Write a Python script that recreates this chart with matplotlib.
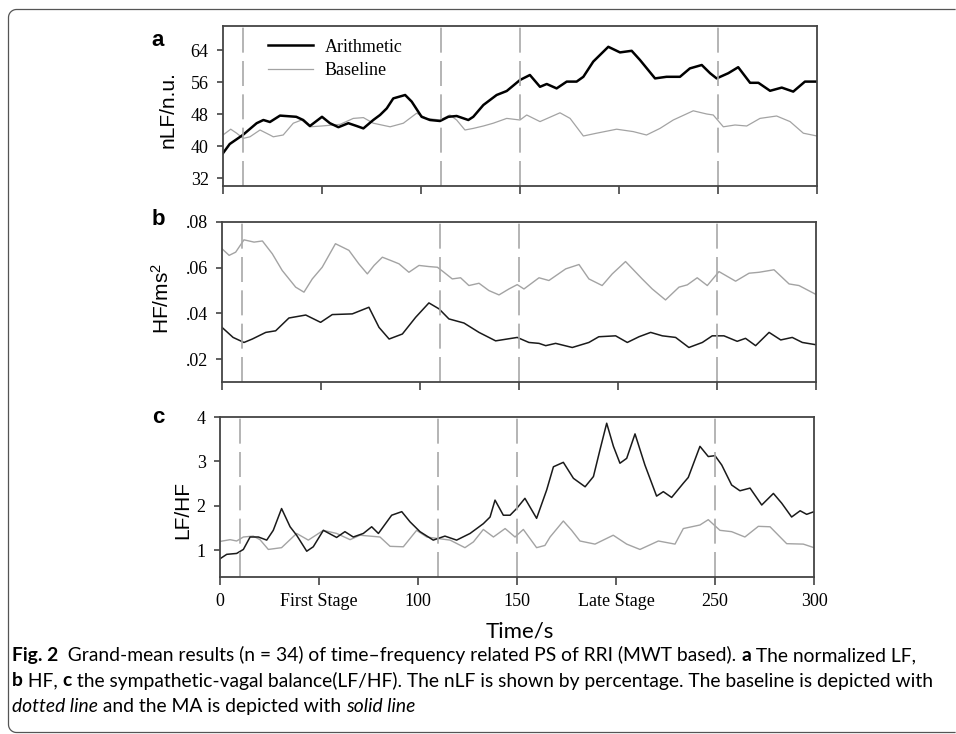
import numpy as np
import matplotlib.pyplot as plt
from matplotlib.lines import Line2D
from matplotlib.transforms import IdentityTransform

# ---- data ----
stage_marks = [10, 110, 150, 250]
xticks = [0, 50, 100, 150, 200, 250, 300]
xticklabels = ['0', 'First Stage', '100', '150', 'Late Stage', '250', '300']

# a: nLF (n.u.)
t_nlf_ma = [0, 3.4, 10, 17, 20.4, 23.7, 28.8, 37, 40.5, 43.9, 50, 54, 58.3, 63.3, 67.5, 70.9,
            75.9, 79.3, 82.7, 86, 92, 95.3, 100.3, 104.5, 109.6, 113.8, 118, 123.9, 126.4,
            131.5, 138.2, 143.3, 150, 155, 160.1, 163.5, 168.5, 173.6, 178.6, 182, 187,
            194.6, 200.5, 206.4, 210.6, 218.2, 224, 230.8, 235.8, 241.8, 246, 249.3, 255.2,
            260.2, 266.2, 270.4, 276.3, 282.2, 288, 293.9, 300]
nlf_ma = [38.2, 40.5, 42.75, 45.7, 46.5, 46, 47.6, 47.3, 46.5, 45, 47.3, 45.7, 44.7, 45.7, 45,
          44.4, 46.5, 47.75, 49.4, 51.9, 52.75, 51.1, 47.3, 46.5, 46.25, 47.3, 47.5, 46.5, 47.3,
          50.25, 52.75, 53.75, 56.5, 57.75, 54.8, 55.5, 54.4, 56.1, 56.1, 57.3, 61.1,
          64.8, 63.4, 63.8, 61.5, 56.9, 57.3, 57.3, 59.4, 60.25, 58.2, 56.9, 58.2,
          59.7, 55.8, 55.8, 53.8, 54.6, 53.6, 56.1, 56.1]
t_nlf_base = [0, 3.9, 6.9, 10.2, 13.6, 18.7, 23.7, 25.4, 30.4, 35.5, 39.7, 43.9, 49.8, 59.1,
              65.8, 70.9, 75.9, 84.4, 91.1, 97.8, 102.9, 109.6, 114.6, 118, 122.2, 126.4,
              131.5, 136.5, 143.3, 150, 153.4, 160.1, 170.2, 175.3, 182, 188.7, 198.8, 207.2,
              213.9, 220.7, 227.4, 237.5, 244.3, 247.6, 252.7, 258.6, 264.5, 271.2, 279.6,
              286.4, 293.1, 300]
nlf_base = [42.75, 44.2, 43.2, 41.9, 42.3, 44, 42.75, 42.3, 42.75, 45.7, 46.5, 44.8, 45, 45.4,
            46.9, 47.1, 45.7, 44.8, 45.7, 48.2, 46.9, 46.5, 47.75, 46.5, 44, 44.4,
            45, 45.7, 46.9, 46.5, 47.75, 46.1, 48.3, 46.9, 42.5, 43.2, 44.2, 43.6,
            42.75, 44.4, 46.5, 48.8, 48, 47.75, 44.8, 45.25, 45, 46.9, 47.5,
            46.1, 43.2, 42.5]

# b: HF (ms^2)
t_hf_ma = [0, 5.6, 11.1, 15.3, 22.1, 27.1, 33.8, 42.3, 49.8, 55.7, 65.8, 74.2, 79.3, 84.4,
           91.1, 97.8, 104.5, 109.6, 114.6, 122.2, 129.8, 138.2, 149.1, 155, 160.1, 163.5,
           168.5, 176.9, 185.3, 190.3, 198.8, 204.7, 210.6, 216.5, 222.4, 229.1, 235.8,
           242.6, 247.6, 253.5, 260.2, 264.4, 269.5, 276.3, 282.2, 288, 293.1, 300]
hf_ma = [0.0339, 0.0295, 0.0273, 0.0288, 0.0317, 0.0324, 0.038, 0.0393, 0.0361, 0.0395, 0.0398,
         0.0427, 0.0339, 0.0288, 0.031, 0.0383, 0.0446, 0.042, 0.0376, 0.0358, 0.0317, 0.028,
         0.0295, 0.0273, 0.0269, 0.0259, 0.0269, 0.0251, 0.0273, 0.0298, 0.0302, 0.0273,
         0.0298, 0.0317, 0.0302, 0.0295, 0.0251, 0.0273, 0.0302, 0.0302, 0.0278, 0.0291,
         0.0259, 0.0317, 0.0284, 0.0295, 0.0273, 0.0263]
t_hf_base = [0, 3.6, 6.9, 11.1, 16.2, 20.4, 25.4, 30.4, 37.2, 41.4, 45.6, 50.6, 57.3, 64.1,
             69.1, 73.4, 76.8, 81, 86, 89.4, 94.4, 99.5, 104.5, 108.8, 112.1, 116.3, 120.5,
             124.7, 129.8, 134.8, 139.9, 144.9, 149.1, 152.5, 160.1, 165.1, 173.6, 180.3,
             185.3, 192, 197.1, 203.8, 212.2, 217.3, 224, 230.8, 235, 240, 245.1, 251,
             259.4, 266.2, 271.2, 278.8, 286.4, 291.4, 300]
hf_base = [0.0683, 0.0654, 0.0668, 0.0722, 0.0712, 0.0717, 0.0661, 0.0588, 0.0515, 0.0493,
           0.0551, 0.0602, 0.0705, 0.0676, 0.0617, 0.0573, 0.061, 0.0646, 0.0629, 0.0617,
           0.058, 0.061, 0.0605, 0.0602, 0.058, 0.0551, 0.0556, 0.0522, 0.0532, 0.05, 0.0481,
           0.0507, 0.0526, 0.0507, 0.0556, 0.0544, 0.0595, 0.0614, 0.0551, 0.0522, 0.0573,
           0.0627, 0.0551, 0.0507, 0.0459, 0.0515, 0.0525, 0.0556, 0.0522, 0.0583, 0.0541,
           0.0576, 0.058, 0.0591, 0.0529, 0.0522, 0.0483]

# c: LF/HF
t_ratio_ma = [0, 3.4, 8.4, 11.8, 15.2, 19.4, 23.6, 26.9, 31.1, 35.4, 38.7, 43.8, 47.1, 52.2,
              58.9, 63.1, 67.3, 72.4, 76.6, 80, 86.7, 91.8, 96, 101, 107.7, 113.6, 119.5,
              126.3, 133, 136.4, 138.9, 143.1, 146.5, 149.8, 154, 159.9, 165, 168.4, 173.4,
              178.5, 184.4, 188.6, 191.9, 195.3, 198.7, 202, 205.4, 209.6, 214.6, 220.5,
              223.9, 228.1, 234, 236.5, 242.4, 246.6, 250, 253.4, 258.4, 262.6, 267.7,
              273.6, 279.5, 283.7, 288.7, 293, 296.3, 300]
ratio_ma = [0.81, 0.91, 0.93, 1.02, 1.3, 1.3, 1.23, 1.45, 1.94, 1.53, 1.34, 0.98, 1.08, 1.45,
            1.29, 1.42, 1.3, 1.38, 1.53, 1.38, 1.79, 1.87, 1.64, 1.42, 1.23, 1.32, 1.23,
            1.38, 1.6, 1.75, 2.13, 1.79, 1.79, 1.94, 2.17, 1.72, 2.36, 2.88, 2.98,
            2.62, 2.43, 2.66, 3.26, 3.86, 3.34, 2.96, 3.07, 3.62, 2.92, 2.22,
            2.32, 2.19, 2.51, 2.64, 3.34, 3.11, 3.13, 2.92, 2.47, 2.34, 2.4,
            2.02, 2.28, 2.06, 1.75, 1.89, 1.81, 1.87]
t_ratio_base = [0, 5.1, 8.4, 11.8, 16.8, 20.2, 24.4, 31.1, 38.7, 44.6, 52.2, 58.9, 65.7, 70.7,
                80.8, 85.9, 92.6, 99.3, 104.4, 111.1, 116.2, 123.7, 128, 133, 138.1, 144,
                149, 153.2, 159.9, 164.1, 166.7, 173.4, 177.6, 181.8, 189.4, 198.6, 205.4,
                212.1, 221.4, 229.8, 234, 242.4, 246.6, 252.5, 258.4, 265.1, 271.9, 277.8,
                286.2, 294.6, 300]
ratio_base = [1.2, 1.24, 1.21, 1.3, 1.32, 1.24, 1.02, 1.06, 1.38, 1.23, 1.45, 1.38, 1.24, 1.34,
              1.3, 1.09, 1.08, 1.45, 1.3, 1.26, 1.23, 1.06, 1.19, 1.47, 1.3, 1.49,
              1.3, 1.47, 1.06, 1.11, 1.3, 1.66, 1.45, 1.21, 1.14, 1.34, 1.14,
              1.02, 1.21, 1.14, 1.49, 1.57, 1.69, 1.45, 1.42, 1.3, 1.54, 1.53,
              1.15, 1.14, 1.06]

# ---- style ----
plt.rcParams['mathtext.default'] = 'regular'
serif = 'Liberation Serif'
sans = 'Liberation Sans'
cap_font = ['Lato', 'DejaVu Sans']
spine_c = '#444444'
base_c = '#a3a3a3'
dash_c = '#a8a8a8'

W, H = 956, 734
fig = plt.figure(figsize=(W / 100, H / 100), dpi=100)


def px_axes(l, t, r, b):
    return fig.add_axes([l / W, 1 - b / H, (r - l) / W, (b - t) / H])


ax_a = px_axes(223, 26, 817, 186)
ax_b = px_axes(222, 222, 816, 382)
ax_c = px_axes(220, 417, 814, 577)

ax_a.plot(t_nlf_base, nlf_base, color=base_c, lw=0.9, label='Baseline')
ax_a.plot(t_nlf_ma, nlf_ma, color='black', lw=1.8, label='Arithmetic')
ax_b.plot(t_hf_base, hf_base, color=base_c, lw=1.0)
ax_b.plot(t_hf_ma, hf_ma, color='#1a1a1a', lw=1.1)
ax_c.plot(t_ratio_base, ratio_base, color=base_c, lw=1.0)
ax_c.plot(t_ratio_ma, ratio_ma, color='#1a1a1a', lw=1.1)

for ax in (ax_a, ax_b, ax_c):
    for m in stage_marks:
        ax.axvline(m, color=dash_c, lw=1.2, dashes=(15, 5))
    ax.set_xlim(0, 300)
    ax.set_xticks(xticks)
    for s in ax.spines.values():
        s.set_color(spine_c)
        s.set_linewidth(1.3)
    ax.tick_params(axis='y', direction='out', length=4.3, width=1.2, color=spine_c,
                   pad=6, labelsize=13)
    ax.tick_params(axis='x', direction='out', length=5.5, width=1.2, color=spine_c,
                   pad=6, labelsize=13)
    for lab in ax.get_yticklabels() + ax.get_xticklabels():
        lab.set_fontfamily(serif)

ax_a.set_ylim(30, 70)
ax_a.set_yticks([32, 40, 48, 56, 64])
ax_a.set_xticklabels([])
ax_b.set_ylim(0.01, 0.08)
ax_b.set_yticks([0.02, 0.04, 0.06, 0.08])
ax_b.set_yticklabels(['.02', '.04', '.06', '.08'], fontfamily=serif)
ax_b.set_xticklabels([])
ax_c.set_ylim(0.4, 4)
ax_c.set_yticks([1, 2, 3, 4])
ax_c.set_yticklabels(['1', '2', '3', '4'], fontfamily=serif)
ax_c.set_xticklabels(xticklabels, fontfamily=serif)

ax_a.set_ylabel('nLF/n.u.', fontfamily=sans, fontsize=15)
ax_a.yaxis.set_label_coords(-0.077, 0.48)
ax_b.set_ylabel('HF/ms$^2$', fontfamily=sans, fontsize=15)
ax_b.yaxis.set_label_coords(-0.082, 0.52)
ax_c.set_ylabel('LF/HF', fontfamily=sans, fontsize=15)
ax_c.yaxis.set_label_coords(-0.047, 0.42)

h, l = ax_a.get_legend_handles_labels()
ax_a.legend(h[::-1], l[::-1], frameon=False, loc='upper left',
            bbox_to_anchor=(0.075, 0.92), borderpad=0, borderaxespad=0,
            handlelength=2.5, handletextpad=0.65, labelspacing=0.35,
            prop={'family': serif, 'size': 13})

for letter, x, y in [('a', 151, 46), ('b', 152, 225), ('c', 152, 423)]:
    fig.text(x / W, 1 - y / H, letter, fontfamily=sans, fontweight='bold',
             fontsize=16, va='baseline')

fig.text(520 / W, 1 - 637 / H, 'Time/s', fontfamily=cap_font, fontsize=16,
         ha='center', va='baseline')

# rounded frame: left side, top and bottom, open to the right (pixel coords)
r = 8
x0, yt, yb = 8.5, H - 9.5, 1.5
corner = np.linspace(0, np.pi / 2, 12)
fx = ([W - 1] + list(x0 + r - r * np.sin(corner)) +
      list(x0 + r - r * np.cos(corner)) + [W - 1])
fy = ([yb] + list(yb + r - r * np.cos(corner)) +
      list(yt - r + r * np.sin(corner)) + [yt])
fig.add_artist(Line2D(fx, fy, transform=IdentityTransform(), color='#555555', lw=0.9))

caption = [
    [('Fig. 2', 'bold', 'normal'),
     ('  Grand-mean results (n = 34) of time\u2013frequency related PS of RRI (MWT based). ',
      'normal', 'normal'),
     ('a', 'bold', 'normal'), (' The normalized LF,', 'normal', 'normal')],
    [('b', 'bold', 'normal'), (' HF, ', 'normal', 'normal'), ('c', 'bold', 'normal'),
     (' the sympathetic-vagal balance(LF/HF). The nLF is shown by percentage. '
      'The baseline is depicted with', 'normal', 'normal')],
    [('dotted line', 'normal', 'italic'), (' and the MA is depicted with ', 'normal', 'normal'),
     ('solid line', 'normal', 'italic')],
]
renderer = fig.canvas.get_renderer()
for i, runs in enumerate(caption):
    x = 12
    y = 661 + 25.5 * i
    for txt, wt, st in runs:
        t = fig.text(x / W, 1 - y / H, txt, fontfamily=cap_font, fontsize=13.9,
                     fontweight=wt, fontstyle=st, va='baseline')
        x += t.get_window_extent(renderer).width

fig.savefig('out.png', dpi=100)
